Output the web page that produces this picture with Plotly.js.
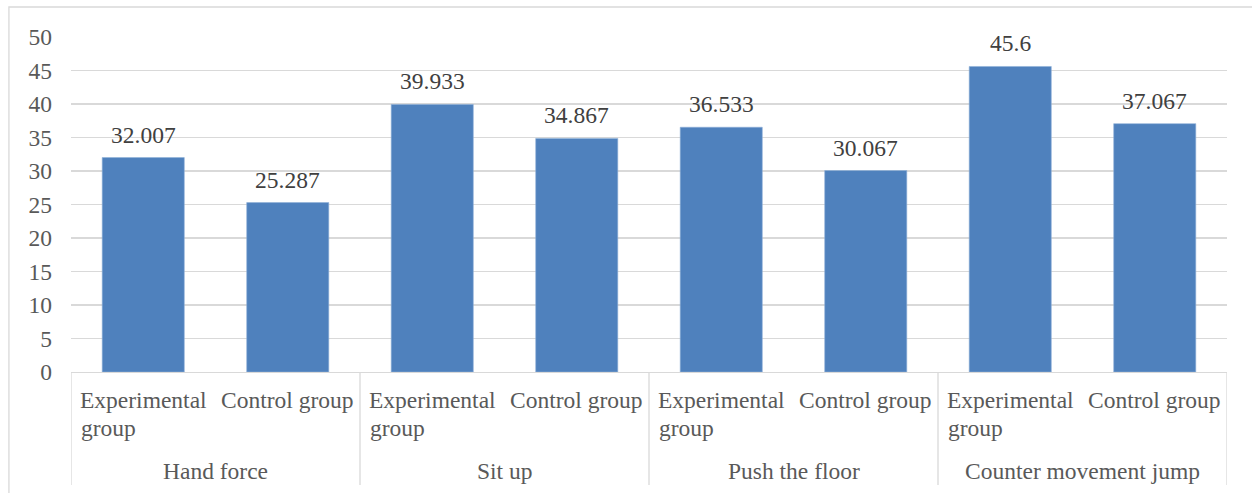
<!DOCTYPE html>
<html>
<head>
<meta charset="utf-8">
<script src="https://cdn.plot.ly/plotly-3.0.1.min.js"></script>
<style>
html,body{margin:0;padding:0;background:#fff;}
#chart{width:1252px;height:493px;}
</style>
</head>
<body>
<div id="chart"></div>
<script>
const groups = ["Hand force", "Sit up", "Push the floor", "Counter movement jump"];
const subFirstLine = ["Experimental", "Control group"];
const subSecondLine = ["group", ""];
const categories = [
  "Hand force | Experimental group", "Hand force | Control group",
  "Sit up | Experimental group", "Sit up | Control group",
  "Push the floor | Experimental group", "Push the floor | Control group",
  "Counter movement jump | Experimental group", "Counter movement jump | Control group"
];
const values = [32.007, 25.287, 39.933, 34.867, 36.533, 30.067, 45.6, 37.067];
const valueLabels = ["32.007", "25.287", "39.933", "34.867", "36.533", "30.067", "45.6", "37.067"];
const yTicks = [0, 5, 10, 15, 20, 25, 30, 35, 40, 45, 50];

const FONT = "Liberation Serif";
const FS = 23.5;
const GRID = "#d9d9d9";

const annotations = [];
// data labels
values.forEach((v, i) => {
  annotations.push({
    x: i, y: v, xref: "x", yref: "y",
    text: valueLabels[i], showarrow: false,
    xanchor: "center", yanchor: "bottom", yshift: 8,
    font: {family: FONT, size: FS, color: "#404040"}
  });
});
// sub-category labels (first line centred, wrapped second line left-aligned under it)
categories.forEach((c, i) => {
  const k = i % 2;
  annotations.push({
    x: i, y: 0, xref: "x", yref: "paper",
    text: subFirstLine[k], showarrow: false,
    xanchor: "center", yanchor: "top", yshift: -13,
    font: {family: FONT, size: FS, color: "#595959"}
  });
  if (subSecondLine[k]) {
    annotations.push({
      x: i, y: 0, xref: "x", yref: "paper",
      text: subSecondLine[k], showarrow: false,
      xanchor: "left", yanchor: "top", yshift: -41, xshift: -64,
      font: {family: FONT, size: FS, color: "#595959"}
    });
  }
});
// group labels
groups.forEach((g, k) => {
  annotations.push({
    x: 2 * k + 0.5, y: -0.2955, xref: "x", yref: "paper",
    text: g, showarrow: false,
    xanchor: "center", yanchor: "middle",
    font: {family: FONT, size: FS, color: "#595959"}
  });
});

const shapes = [];
for (let k = 0; k <= groups.length; k++) {
  shapes.push({
    type: "line", xref: "x", yref: "paper",
    x0: 2 * k - 0.5, x1: 2 * k - 0.5, y0: 0, y1: -0.337,
    line: {color: GRID, width: 1.3}
  });
}
// outer chart border
shapes.push({
  type: "rect", xref: "paper", yref: "paper",
  x0: -0.0537, x1: 1.1, y0: -0.6, y1: 1.0896,
  line: {color: GRID, width: 1.3}, fillcolor: "rgba(0,0,0,0)"
});

const trace = {
  type: "bar",
  x: categories,
  y: values,
  marker: {color: "#4f81bd", line: {color: "#8fb0d8", width: 0.6}},
  hoverinfo: "skip"
};

const layout = {
  width: 1252, height: 493,
  margin: {l: 71, r: 25, t: 37, b: 121},
  paper_bgcolor: "#ffffff", plot_bgcolor: "#ffffff",
  bargap: 0.432,
  showlegend: false,
  font: {family: FONT, size: FS, color: "#595959"},
  xaxis: {
    type: "category",
    range: [-0.5, 7.5],
    showticklabels: false,
    showgrid: false, zeroline: false,
    showline: true, linecolor: GRID, linewidth: 1.3,
    ticks: ""
  },
  yaxis: {
    range: [0, 50],
    tickvals: yTicks,
    ticktext: yTicks.map(String),
    showgrid: true, gridcolor: GRID, gridwidth: 1.3,
    zeroline: false, showline: false, ticks: "",
    ticklabelstandoff: 18,
    tickfont: {family: FONT, size: FS, color: "#595959"}
  },
  annotations: annotations,
  shapes: shapes
};

Plotly.newPlot("chart", [trace], layout, {staticPlot: true, displayModeBar: false});
</script>
</body>
</html>
